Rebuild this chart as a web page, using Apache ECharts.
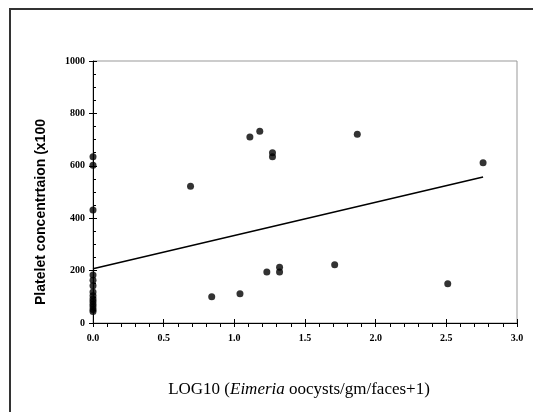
<!DOCTYPE html>
<html>
<head>
<meta charset="utf-8">
<script src="https://cdn.jsdelivr.net/npm/echarts@6/dist/echarts.min.js"></script>
<style>
	html, body { margin: 0; padding: 0; background: #fff; }
	#frame { position: absolute; left: 9px; top: 8px; width: 600px; height: 500px; border: 2px solid #333; }
	#chart { position: absolute; left: 0; top: 0; width: 533px; height: 412px; }
</style>
</head>
<body>
<div id="frame"></div>
<div id="chart"></div>
<script>
// log10 oocyst counts vs platelet concentration
var xTicks = [0, 0.5, 1.0, 1.5, 2.0, 2.5, 3.0];
var yTicks = [0, 200, 400, 600, 800, 1000];

var logOocysts = [0, 0, 0, 0, 0, 0, 0, 0, 0, 0, 0, 0, 0, 0,
	0.69, 0.84, 1.04, 1.11, 1.18, 1.27, 1.27, 1.23, 1.32, 1.32, 1.71, 1.87, 2.51, 2.76];
var platelets = [635, 602, 431, 183, 163, 142, 118, 104, 92, 82, 72, 62, 52, 44,
	522, 100, 112, 710, 732, 650, 635, 195, 213, 195, 222, 720, 150, 612];

// fitted line, two end points
var trendX = [0, 2.76];
var trendY = [207, 557];

var points = [];
for (var i = 0; i < logOocysts.length; i++) {
	points.push([logOocysts[i], platelets[i]]);
}
var trend = [];
for (var j = 0; j < trendX.length; j++) {
	trend.push([trendX[j], trendY[j]]);
}

var tickFont = { fontFamily: 'Liberation Serif', fontWeight: 'bold', fontSize: 10, color: '#000' };

var chart = echarts.init(document.getElementById('chart'));
chart.setOption({
	animation: false,
	grid: { left: 93, top: 61, right: 16, bottom: 89, show: true, borderColor: '#999', borderWidth: 1 },
	xAxis: [{
		type: 'value', min: 0, max: 3, interval: 0.5, position: 'bottom',
		axisLine: { lineStyle: { color: '#000', width: 1 } },
		axisTick: { length: 4, lineStyle: { color: '#000' } },
		minorTick: { show: true, splitNumber: 5, length: 4, lineStyle: { color: '#000' } },
		splitLine: { show: false },
		axisLabel: Object.assign({ margin: 10, formatter: function (v) { return v.toFixed(1); } }, tickFont),
		name: '{n|LOG10 (}{i|Eimeria}{n| oocysts/gm/faces+1)}',
		nameLocation: 'middle', nameGap: 58,
		nameTextStyle: {
			padding: [0, 12, 0, 0],
			rich: {
				n: { fontFamily: 'Liberation Serif', fontSize: 17, color: '#000' },
				i: { fontFamily: 'Liberation Serif', fontSize: 17, fontStyle: 'italic', color: '#000' }
			}
		}
	}, {
		type: 'value', min: 0, max: 3, interval: 0.5, position: 'bottom',
		axisLine: { show: false },
		axisTick: { inside: true, length: 4, lineStyle: { color: '#000' } },
		minorTick: { show: false },
		splitLine: { show: false },
		axisLabel: { show: false }
	}],
	yAxis: [{
		type: 'value', min: 0, max: 1000, interval: 200, position: 'left',
		axisLine: { show: true, lineStyle: { color: '#000', width: 1 } },
		axisTick: { show: true, length: 4, lineStyle: { color: '#000' } },
		minorTick: { show: false },
		splitLine: { show: false },
		axisLabel: Object.assign({ margin: 8, formatter: function (v) { return String(v); } }, tickFont),
		name: 'Platelet concentrtaion (x100',
		nameLocation: 'middle', nameGap: 45, nameRotate: 90,
		nameTextStyle: { fontFamily: 'Liberation Sans', fontWeight: 'bold', fontSize: 14, color: '#000', padding: [0, 40, 0, 0] }
	}, {
		type: 'value', min: 0, max: 1000, interval: 200, position: 'left',
		axisLine: { show: false },
		axisTick: { show: true, inside: true, length: 4, lineStyle: { color: '#000' } },
		minorTick: { show: true, splitNumber: 4, length: 3, lineStyle: { color: '#000' } },
		splitLine: { show: false },
		axisLabel: { show: false }
	}],
	series: [{
		type: 'scatter',
		data: points,
		symbol: 'circle',
		symbolSize: 7,
		itemStyle: { color: '#000' },
		z: 3
	}, {
		type: 'line',
		data: trend,
		symbol: 'none',
		lineStyle: { color: '#000', width: 1.5 },
		z: 2
	}]
});
</script>
</body>
</html>
